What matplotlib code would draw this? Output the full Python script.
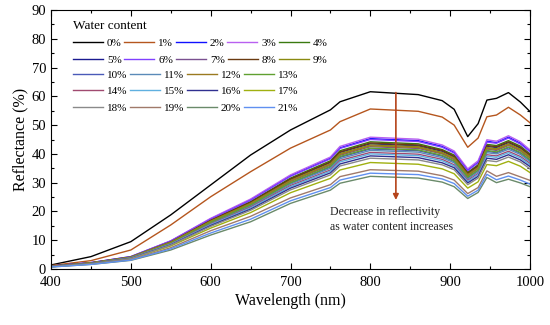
import matplotlib
matplotlib.use("Agg")
import matplotlib.pyplot as plt
from matplotlib.ticker import MultipleLocator

plt.rcParams['font.family'] = ['Liberation Serif', 'DejaVu Serif']

wavelength = [400, 450, 500, 550, 600, 650, 700, 750, 762, 800,
              860, 890, 905, 922, 935, 946, 958, 973, 988, 1000]

# reflectance (%) for each water content
wc00 = [1.4, 4.3, 9.5, 18.8, 29.2, 39.6, 48.3, 55.3, 58.1, 61.6, 60.6, 58.5, 55.5, 46.0, 50.5, 58.7, 59.3, 61.3, 58.0, 54.7]
wc01 = [1.2, 2.9, 6.6, 15.3, 25.1, 33.8, 42.0, 48.3, 51.2, 55.6, 54.8, 52.8, 50.0, 42.3, 45.5, 52.9, 53.5, 56.2, 53.5, 50.8]
wc02 = [1.0, 2.2, 4.3, 9.7, 17.4, 24.0, 32.4, 38.5, 42.1, 45.3, 44.6, 42.6, 40.5, 34.4, 37.1, 44.4, 43.9, 45.8, 43.7, 41.0]
wc03 = [1.0, 2.2, 4.3, 9.8, 17.6, 24.3, 32.7, 38.9, 42.6, 45.8, 45.1, 43.1, 41.0, 34.8, 37.6, 44.9, 44.4, 46.3, 44.2, 41.4]
wc04 = [1.0, 2.1, 4.2, 9.5, 17.0, 23.4, 31.6, 37.6, 41.1, 44.2, 43.5, 41.5, 39.6, 33.6, 36.2, 43.3, 42.9, 44.6, 42.7, 40.0]
wc05 = [1.0, 2.1, 4.1, 9.4, 16.7, 23.1, 31.1, 37.0, 40.5, 43.5, 42.8, 40.9, 38.9, 33.1, 35.7, 42.6, 42.2, 43.9, 42.0, 39.4]
wc06 = [1.0, 2.2, 4.2, 9.7, 17.3, 23.9, 32.2, 38.3, 41.9, 45.0, 44.3, 42.3, 40.3, 34.2, 36.9, 44.1, 43.7, 45.5, 43.4, 40.7]
wc07 = [0.9, 2.0, 4.0, 9.1, 16.4, 22.5, 30.4, 36.1, 39.5, 42.5, 41.9, 40.0, 38.0, 32.3, 34.9, 41.7, 41.2, 42.9, 41.0, 38.5]
wc08 = [1.0, 2.1, 4.1, 9.4, 16.9, 23.2, 31.3, 37.2, 40.7, 43.8, 43.1, 41.2, 39.2, 33.3, 35.9, 42.9, 42.5, 44.2, 42.3, 39.6]
wc09 = [0.9, 2.1, 4.1, 9.3, 16.6, 22.8, 30.8, 36.6, 40.1, 43.1, 42.5, 40.5, 38.6, 32.8, 35.3, 42.2, 41.8, 43.5, 41.6, 39.0]
wc10 = [0.9, 2.0, 3.9, 9.0, 16.1, 22.1, 29.8, 35.4, 38.8, 41.7, 41.1, 39.2, 37.3, 31.7, 34.2, 40.9, 40.4, 42.1, 40.2, 37.7]
wc11 = [0.9, 2.0, 3.9, 8.9, 15.9, 21.8, 29.5, 35.0, 38.3, 41.2, 40.6, 38.7, 36.9, 31.3, 33.8, 40.4, 40.0, 41.6, 39.8, 37.3]
wc12 = [0.9, 2.1, 4.0, 9.2, 16.5, 22.7, 30.6, 36.4, 39.8, 42.8, 42.2, 40.2, 38.3, 32.5, 35.1, 41.9, 41.5, 43.2, 41.3, 38.7]
wc13 = [0.9, 2.0, 3.9, 9.0, 16.2, 22.3, 30.0, 35.7, 39.1, 42.0, 41.4, 39.5, 37.6, 31.9, 34.4, 41.2, 40.7, 42.4, 40.5, 38.0]
wc14 = [0.9, 1.9, 3.8, 8.7, 15.6, 21.5, 29.0, 34.4, 37.7, 40.5, 39.9, 38.1, 36.2, 30.8, 33.2, 39.7, 39.3, 40.9, 39.1, 36.7]
wc15 = [0.9, 1.9, 3.8, 8.6, 15.4, 21.2, 28.6, 34.0, 37.2, 40.0, 39.4, 37.6, 35.8, 30.4, 32.8, 39.2, 38.8, 40.4, 38.6, 36.2]
wc16 = [0.9, 1.9, 3.7, 8.4, 15.1, 20.8, 28.1, 33.4, 36.5, 39.3, 38.7, 36.9, 35.2, 29.9, 32.2, 38.5, 38.1, 39.7, 37.9, 35.6]
wc17 = [0.8, 1.8, 3.5, 8.0, 14.2, 19.6, 26.5, 31.5, 34.4, 37.0, 36.4, 34.8, 33.1, 28.1, 30.3, 36.3, 35.9, 37.4, 35.7, 33.5]
wc18 = [0.8, 1.8, 3.6, 8.3, 14.8, 20.4, 27.5, 32.7, 35.8, 38.5, 37.9, 36.2, 34.5, 29.3, 31.6, 37.7, 37.3, 38.9, 37.2, 34.8]
wc19 = [0.8, 1.7, 3.2, 7.4, 13.3, 18.3, 24.7, 29.3, 32.1, 34.5, 34.0, 32.4, 30.9, 26.2, 28.3, 34.1, 32.2, 33.5, 32.0, 30.8]
wc20 = [0.7, 1.6, 3.0, 6.6, 11.8, 16.4, 22.8, 27.4, 29.8, 32.2, 31.6, 30.2, 28.6, 24.5, 26.6, 31.8, 30.0, 31.2, 29.9, 28.6]
wc21 = [0.7, 1.6, 3.1, 7.0, 12.5, 17.3, 23.7, 28.3, 30.9, 33.3, 32.8, 31.3, 29.7, 25.3, 27.4, 32.9, 31.0, 32.3, 30.9, 29.5]

spectra = [wc00, wc01, wc02, wc03, wc04, wc05, wc06, wc07, wc08, wc09, wc10,
           wc11, wc12, wc13, wc14, wc15, wc16, wc17, wc18, wc19, wc20, wc21]
labels = ['%d%%' % i for i in range(22)]

colors = ['#000000', '#b5561e', '#1010ff', '#b860f0', '#3a7a10',
          '#1a1a90', '#8040ff', '#7a5090', '#6a3a10', '#8a8a10',
          '#4a5ab8', '#5a8ab8', '#9a7a20', '#60a030',
          '#a04a70', '#60b0e0', '#303090', '#a0b010',
          '#8a8a8a', '#a07a6a', '#6a8a6a', '#6090f0']

# legend rows as in the original (5,5,4,4,4 entries)
legend_rows = [range(0, 5), range(5, 10), range(10, 14), range(14, 18), range(18, 22)]

fig = plt.figure(figsize=(5.5, 3.25), dpi=100)
ax = fig.add_axes([51 / 550, 56 / 325, 479 / 550, 259 / 325])

lines = []
for vals, lab, col in zip(spectra, labels, colors):
    ln, = ax.plot(wavelength, vals, color=col, lw=1.0, label=lab)
    lines.append(ln)

ax.set_xlim(400, 1000)
ax.set_ylim(0, 90)
ax.xaxis.set_major_locator(MultipleLocator(100))
ax.xaxis.set_minor_locator(MultipleLocator(50))
ax.yaxis.set_major_locator(MultipleLocator(10))
ax.yaxis.set_minor_locator(MultipleLocator(5))
ax.tick_params(which='both', direction='in', top=True, right=True, labelsize=10.5)
ax.tick_params(which='major', length=4, width=0.8)
ax.tick_params(which='minor', length=2, width=0.8)
ax.tick_params(axis='x', which='major', pad=5)
ax.set_xlabel('Wavelength (nm)', fontsize=11.5, labelpad=3)
ax.set_ylabel('Reflectance (%)', fontsize=11.5, labelpad=2)

# arrow and note
ax.annotate('', xy=(832, 24), xytext=(832, 61.3),
            arrowprops=dict(arrowstyle='-|>', color='#b5441b', lw=1.2,
                            mutation_scale=8, shrinkA=0, shrinkB=0))
ax.text(750, 22, 'Decrease in reflectivity\nas water content increases',
        fontsize=8.5, va='top', ha='left', linespacing=1.35, color='#222222')

# legend: title plus one legend per row
ax.text(0.046, 0.938, 'Water content', transform=ax.transAxes,
        fontsize=9.5, va='center', ha='left')
row_y = [0.873, 0.807, 0.749, 0.687, 0.622]
legs = []
for rows, y in zip(legend_rows, row_y):
    leg = ax.legend([lines[i] for i in rows], [labels[i] for i in rows],
                    ncol=len(rows), loc='center left', bbox_to_anchor=(0.046, y),
                    frameon=False, borderpad=0, borderaxespad=0, fontsize=8,
                    handlelength=2.7, handletextpad=0.35, columnspacing=0.25)
    legs.append(leg)
# the last one stays as ax.legend_, the others are added as artists
for leg in legs[:-1]:
    ax.add_artist(leg)

fig.savefig('out.png', dpi=100)
